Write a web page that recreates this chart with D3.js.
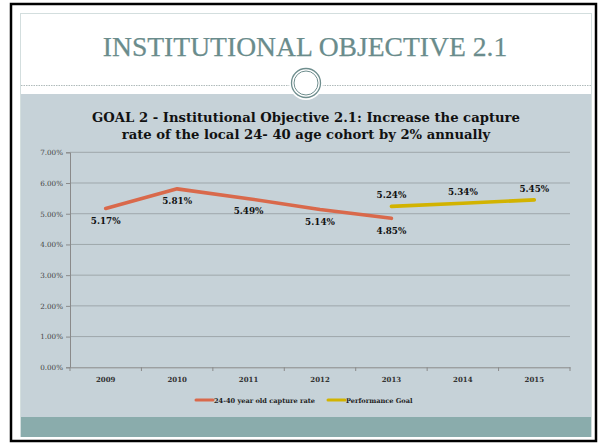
<!DOCTYPE html>
<html>
<head>
<meta charset="utf-8">
<script src="https://cdn.jsdelivr.net/npm/d3@7"></script>
<style>
html,body{margin:0;padding:0;background:#fff;}
svg{display:block;}
</style>
</head>
<body>
<svg id="c" width="600" height="445"></svg>
<script>
const years = ["2009","2010","2011","2012","2013","2014","2015"];
const captureYears = ["2009","2010","2011","2012","2013"];
const captureValues = [5.17, 5.81, 5.49, 5.14, 4.85];
const goalYears = ["2013","2014","2015"];
const goalValues = [5.24, 5.34, 5.45];
const yTicks = [0,1,2,3,4,5,6,7];
const slideTitle = "INSTITUTIONAL OBJECTIVE 2.1";
const chartTitle = ["GOAL 2 - Institutional Objective 2.1: Increase the capture",
                    "rate of the local 24- 40 age cohort by 2% annually"];
const legendLabels = ["24-40 year old capture rate", "Performance Goal"];

const svg = d3.select("#c");
const RED = "#d9694b", YEL = "#d2b300";

// slide frame
svg.append("rect").attr("x",11).attr("y",4).attr("width",585).attr("height",437)
  .attr("fill","#fff").attr("stroke","#000").attr("stroke-width",2.5);
svg.append("rect").attr("x",20.5).attr("y",13.5).attr("width",571).attr("height",423)
  .attr("fill","#fff").attr("stroke","#d3dede").attr("stroke-width",1);
svg.append("rect").attr("x",21).attr("y",94).attr("width",570).attr("height",323).attr("fill","#c6d2d8");
svg.append("rect").attr("x",21).attr("y",417).attr("width",570).attr("height",20).attr("fill","#8aacac");

// dashed separator + ornament
svg.append("line").attr("x1",21).attr("x2",290).attr("y1",85.5).attr("y2",85.5)
  .attr("stroke","#9aa8a8").attr("stroke-width",0.8).attr("stroke-dasharray","1.5,1");
svg.append("line").attr("x1",322).attr("x2",591).attr("y1",85.5).attr("y2",85.5)
  .attr("stroke","#9aa8a8").attr("stroke-width",0.8).attr("stroke-dasharray","1.5,1");
svg.append("circle").attr("cx",306).attr("cy",83).attr("r",17).attr("fill","#fff");
svg.append("circle").attr("cx",306).attr("cy",83).attr("r",14.5).attr("fill","none").attr("stroke","#6f8e8e").attr("stroke-width",1.3);
svg.append("circle").attr("cx",306).attr("cy",83).attr("r",12).attr("fill","none").attr("stroke","#6f8e8e").attr("stroke-width",1);

svg.append("text").attr("x",305).attr("y",56).attr("text-anchor","middle")
  .attr("font-family","Liberation Serif").attr("font-size",27.6).attr("fill","#6a8c8c")
  .attr("stroke","#6a8c8c").attr("stroke-width",0.25)
  .text(slideTitle);

// chart title
const tt = svg.append("g").attr("font-family","DejaVu Serif").attr("font-weight","bold")
  .attr("fill","#111").attr("text-anchor","middle");
const t1 = tt.append("text").attr("x",306).attr("y",122).attr("font-size",13).text(chartTitle[0]);
const w1 = t1.node().getComputedTextLength();
const fs = 13*428/w1;
t1.attr("font-size",fs);
tt.append("text").attr("x",306).attr("y",139).attr("font-size",fs).text(chartTitle[1]);

// scales
const x = d3.scaleBand().domain(years).range([70,570]);
const y = d3.scaleLinear().domain([0,7]).range([367.3,152.3]);

// grid
svg.append("g").selectAll("line").data(yTicks.filter(d=>d>0)).join("line")
  .attr("x1",70).attr("x2",570).attr("y1",d=>y(d)).attr("y2",d=>y(d))
  .attr("stroke","#9ea7ab").attr("stroke-width",1);

const yAxis = svg.append("g").attr("transform","translate(70,0)")
  .call(d3.axisLeft(y).tickValues(yTicks).tickSize(4).tickPadding(3).tickFormat(d=>d3.format(".2f")(d)+"%"));
yAxis.select(".domain").attr("stroke","#8a8a8a");
yAxis.selectAll(".tick line").attr("stroke","#8a8a8a");
yAxis.selectAll("text").attr("font-family","DejaVu Serif").attr("font-size",7.2).attr("fill","#444");

const xAxis = svg.append("g").attr("transform","translate(0,367.3)")
  .call(d3.axisBottom(x).tickSize(0).tickPadding(10));
xAxis.select(".domain").attr("stroke","#8a8a8a");
xAxis.selectAll("text").attr("font-family","DejaVu Serif").attr("font-weight","bold").attr("font-size",7).attr("fill","#333");
svg.append("g").selectAll("line").data(years.concat(["end"])).join("line")
  .attr("x1",(d,i)=>70+i*x.step()).attr("x2",(d,i)=>70+i*x.step())
  .attr("y1",367.3).attr("y2",371).attr("stroke","#8a8a8a");

const cx = d => x(d)+x.bandwidth()/2;
const line = d3.line().x(d=>cx(d[0])).y(d=>y(d[1]));
const capData = captureYears.map((d,i)=>[d,captureValues[i]]);
const goalData = goalYears.map((d,i)=>[d,goalValues[i]]);

svg.append("path").datum(capData).attr("d",line).attr("fill","none")
  .attr("stroke",RED).attr("stroke-width",3.6).attr("stroke-linecap","round").attr("stroke-linejoin","round");
svg.append("path").datum(goalData).attr("d",line).attr("fill","none")
  .attr("stroke",YEL).attr("stroke-width",3.6).attr("stroke-linecap","round").attr("stroke-linejoin","round");

const lab = svg.append("g").attr("font-family","DejaVu Serif").attr("font-weight","bold")
  .attr("font-size",8.8).attr("fill","#111").attr("text-anchor","middle");
lab.selectAll("text.c").data(capData).join("text").attr("class","c")
  .attr("x",d=>cx(d[0])).attr("y",d=>y(d[1])+15.5).text(d=>d3.format(".2f")(d[1])+"%");
lab.selectAll("text.g").data(goalData).join("text").attr("class","g")
  .attr("x",d=>cx(d[0])).attr("y",d=>y(d[1])-8).text(d=>d3.format(".2f")(d[1])+"%");

// legend
const leg = svg.append("g").attr("font-family","DejaVu Serif").attr("font-weight","bold").attr("font-size",6.6).attr("fill","#222");
const legItems = [{x:196, c:RED, t:legendLabels[0]},{x:328, c:YEL, t:legendLabels[1]}];
legItems.forEach(it=>{
  leg.append("line").attr("x1",it.x).attr("x2",it.x+17).attr("y1",400).attr("y2",400)
    .attr("stroke",it.c).attr("stroke-width",3).attr("stroke-linecap","round");
  leg.append("text").attr("x",it.x+18).attr("y",402.5).text(it.t);
});
</script>
</body>
</html>
